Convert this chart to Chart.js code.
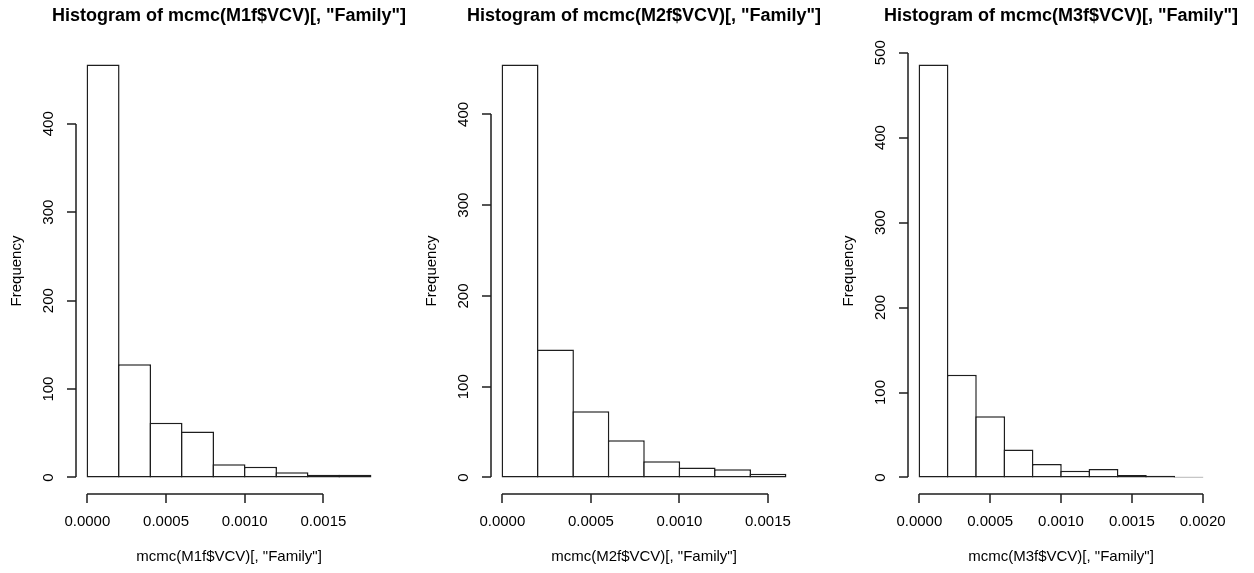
<!DOCTYPE html>
<html>
<head>
<meta charset="utf-8">
<script src="https://cdn.jsdelivr.net/npm/chart.js@4.4.0/dist/chart.umd.min.js"></script>
<style>
  body { margin: 0; background: #fff; }
  #wrap { position: relative; width: 1254px; height: 573px; overflow: hidden; }
  canvas { position: absolute; top: 0; }
</style>
</head>
<body>
<div id="wrap">
  <canvas id="hist1" width="418" height="573" style="left:0px"></canvas>
  <canvas id="hist2" width="418" height="573" style="left:415px"></canvas>
  <canvas id="hist3" width="418" height="573" style="left:832px"></canvas>
</div>
<script>
// --- Data ---
let breaks1 = [0, 0.0002, 0.0004, 0.0006, 0.0008, 0.0010, 0.0012, 0.0014, 0.0016, 0.0018];
let counts1 = [467, 128, 62, 52, 15, 12, 6, 3, 3];
let xTicks1 = [0, 0.0005, 0.0010, 0.0015];
let yTicks1 = [0, 100, 200, 300, 400];

let breaks2 = [0, 0.0002, 0.0004, 0.0006, 0.0008, 0.0010, 0.0012, 0.0014, 0.0016];
let counts2 = [455, 141, 73, 41, 18, 11, 9, 4];
let xTicks2 = [0, 0.0005, 0.0010, 0.0015];
let yTicks2 = [0, 100, 200, 300, 400];

let breaks3 = [0, 0.0002, 0.0004, 0.0006, 0.0008, 0.0010, 0.0012, 0.0014, 0.0016, 0.0018, 0.0020];
let counts3 = [486, 121, 72, 33, 16, 8, 10, 3, 2, 1];
let xTicks3 = [0, 0.0005, 0.0010, 0.0015, 0.0020];
let yTicks3 = [0, 100, 200, 300, 400, 500];

let varNames = ['mcmc(M1f$VCV)[, "Family"]', 'mcmc(M2f$VCV)[, "Family"]', 'mcmc(M3f$VCV)[, "Family"]'];
let yLabel = 'Frequency';

const lineCol = '#1e1e1e';
const lineW = 1.5;

// --- R style axes, drawn off the scales ---
const baseAxes = {
    id: 'baseAxes',
    afterDraw(chart, args, opts) {
        let ctx = chart.ctx;
        let area = chart.chartArea;
        let xs = chart.scales.x, ys = chart.scales.y;
        let tick = 9;
        ctx.save();
        ctx.strokeStyle = lineCol;
        ctx.fillStyle = '#000';
        ctx.lineWidth = lineW;

        // x axis
        let yb = Math.round(area.bottom);
        let xa = Math.round(xs.getPixelForValue(opts.xTicks[0]));
        let xb = Math.round(xs.getPixelForValue(opts.xTicks[opts.xTicks.length - 1]));
        ctx.beginPath();
        ctx.moveTo(xa, yb); ctx.lineTo(xb, yb);
        opts.xTicks.forEach(v => {
            let px = Math.round(xs.getPixelForValue(v));
            ctx.moveTo(px, yb); ctx.lineTo(px, yb + tick);
        });
        ctx.stroke();

        // y axis
        let xl = Math.round(area.left);
        let ya = Math.round(ys.getPixelForValue(opts.yTicks[0]));
        let yt = Math.round(ys.getPixelForValue(opts.yTicks[opts.yTicks.length - 1]));
        ctx.beginPath();
        ctx.moveTo(xl, ya); ctx.lineTo(xl, yt);
        opts.yTicks.forEach(v => {
            let py = Math.round(ys.getPixelForValue(v));
            ctx.moveTo(xl, py); ctx.lineTo(xl - tick, py);
        });
        ctx.stroke();

        // tick labels
        ctx.font = '15px "Liberation Sans", Arial, sans-serif';
        ctx.textAlign = 'center';
        ctx.textBaseline = 'middle';
        opts.xTicks.forEach(v => {
            ctx.fillText(v.toFixed(4), xs.getPixelForValue(v), area.bottom + 28);
        });
        opts.yTicks.forEach(v => {
            ctx.save();
            ctx.translate(area.left - 27, ys.getPixelForValue(v));
            ctx.rotate(-Math.PI / 2);
            ctx.fillText(String(v), 0, 0);
            ctx.restore();
        });

        // axis titles
        let cx = (area.left + area.right) / 2;
        let cy = (area.top + area.bottom) / 2;
        ctx.fillText(opts.xLabel, cx, area.bottom + 63);
        ctx.save();
        ctx.translate(area.left - 59, cy);
        ctx.rotate(-Math.PI / 2);
        ctx.fillText(yLabel, 0, 0);
        ctx.restore();

        // main title
        ctx.font = 'bold 18px "Liberation Sans", Arial, sans-serif';
        ctx.textBaseline = 'alphabetic';
        ctx.fillText('Histogram of ' + opts.xLabel, cx, 21);
        ctx.restore();
    }
};

// --- Histogram builder ---
function makeHist(id, breaks, counts, xTicks, yTicks, xLabel) {
    let points = counts.map((c, i) => ({x: (breaks[i] + breaks[i + 1]) / 2, y: c}));
    let xr = breaks[breaks.length - 1] - breaks[0];
    let ymax = Math.max(...counts);

    let chart = new Chart(document.getElementById(id), {
        type: 'bar',
        data: {
            datasets: [{
                data: points,
                backgroundColor: '#fff',
                borderColor: lineCol,
                borderWidth: lineW,
                borderSkipped: false,
                inflateAmount: 0,
                barPercentage: 1,
                categoryPercentage: 1
            }]
        },
        options: {
            responsive: false,
            animation: false,
            events: [],
            layout: { padding: { left: 76, right: 36, top: 48, bottom: 79 } },
            scales: {
                x: { type: 'linear', display: false, offset: false,
                     min: breaks[0] - 0.04 * xr, max: breaks[breaks.length - 1] + 0.04 * xr },
                y: { type: 'linear', display: false, min: -0.04 * ymax, max: 1.04 * ymax }
            },
            plugins: {
                legend: { display: false },
                tooltip: { enabled: false },
                baseAxes: { xTicks, yTicks, xLabel }
            }
        },
        plugins: [baseAxes]
    });

    // widen each bar by one border so neighbouring outlines share a single line
    let xs = chart.scales.x;
    let binPx = xs.getPixelForValue(breaks[1]) - xs.getPixelForValue(breaks[0]);
    chart.data.datasets[0].barThickness = binPx + lineW;
    chart.update();
    return chart;
}

// --- Initial Load ---
makeHist('hist1', breaks1, counts1, xTicks1, yTicks1, varNames[0]);
makeHist('hist2', breaks2, counts2, xTicks2, yTicks2, varNames[1]);
makeHist('hist3', breaks3, counts3, xTicks3, yTicks3, varNames[2]);
</script>
</body>
</html>
